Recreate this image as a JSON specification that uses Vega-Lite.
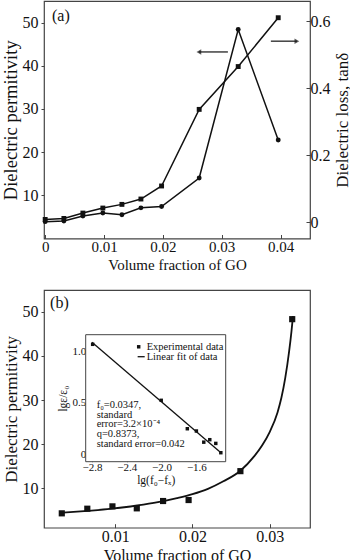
{
  "$schema": "https://vega.github.io/schema/vega-lite/v6.json",
  "padding": {"left": 0, "top": 0, "right": 0, "bottom": 0},
  "background": "white",
  "config": {
    "font": "Liberation Serif",
    "view": {"stroke": "#444", "strokeWidth": 1.2},
    "axis": {"grid": false, "domain": false, "tickColor": "#444", "labelColor": "#111", "titleColor": "#111", "labelFont": "Liberation Serif", "titleFont": "Liberation Serif", "titleFontWeight": "normal", "labelFontWeight": "normal"}
  },
  "datasets": {
    "permit": [
      {"f": 0, "eps": 3.9}, {"f": 0.00318, "eps": 4.05}, {"f": 0.00641, "eps": 5.2}, {"f": 0.0098, "eps": 5.9},
      {"f": 0.01304, "eps": 5.5}, {"f": 0.01627, "eps": 7.1}, {"f": 0.01978, "eps": 7.4}, {"f": 0.02617, "eps": 14.0},
      {"f": 0.0328, "eps": 48.4}, {"f": 0.0396, "eps": 22.8}
    ],
    "loss": [
      {"f": 0, "tan": 0.008}, {"f": 0.00318, "tan": 0.011}, {"f": 0.00641, "tan": 0.027}, {"f": 0.0098, "tan": 0.042},
      {"f": 0.01304, "tan": 0.053}, {"f": 0.01627, "tan": 0.069}, {"f": 0.01978, "tan": 0.108}, {"f": 0.02617, "tan": 0.337},
      {"f": 0.0328, "tan": 0.465}, {"f": 0.0396, "tan": 0.611}
    ],
    "exp": [
      {"f": 0.0031, "eps": 4.35}, {"f": 0.0064, "eps": 5.4}, {"f": 0.00965, "eps": 5.93}, {"f": 0.0128, "eps": 5.48},
      {"f": 0.0162, "eps": 7.14}, {"f": 0.0195, "eps": 7.36}, {"f": 0.0262, "eps": 13.9}, {"f": 0.0329, "eps": 48.3}
    ],
    "fit": [
      {"f": 0.0032, "eps": 4.5}, {"f": 0.006, "eps": 4.85}, {"f": 0.009, "eps": 5.3}, {"f": 0.012, "eps": 5.9},
      {"f": 0.015, "eps": 6.7}, {"f": 0.018, "eps": 7.8}, {"f": 0.02, "eps": 8.7}, {"f": 0.022, "eps": 9.9},
      {"f": 0.024, "eps": 11.6}, {"f": 0.0262, "eps": 14.0}, {"f": 0.028, "eps": 17.3}, {"f": 0.029, "eps": 19.7},
      {"f": 0.03, "eps": 22.8}, {"f": 0.031, "eps": 27.2}, {"f": 0.0315, "eps": 30.5}, {"f": 0.032, "eps": 35.0},
      {"f": 0.0325, "eps": 41.0}, {"f": 0.0328, "eps": 45.5}, {"f": 0.033, "eps": 49.0}
    ],
    "inset": [
      {"lgf": -2.792, "lge": 1.065}, {"lgf": -2.004, "lge": 0.523}, {"lgf": -1.704, "lge": 0.248}, {"lgf": -1.6, "lge": 0.226},
      {"lgf": -1.515, "lge": 0.118}, {"lgf": -1.446, "lge": 0.142}, {"lgf": -1.377, "lge": 0.106}, {"lgf": -1.319, "lge": 0.016}
    ],
    "insetfit": [
      {"lgf": -2.8, "lge": 1.084}, {"lgf": -1.311, "lge": 0.01}
    ]
  },
  "spacing": 51,
  "bounds": "flush",
  "vconcat": [
    {
      "width": 266,
      "height": 237.5,
      "layer": [
        {
          "layer": [
            {
              "data": {"name": "permit"},
              "mark": {"type": "line", "color": "#111", "strokeWidth": 1.5, "point": {"filled": true, "shape": "circle", "size": 24, "color": "#111"}},
              "encoding": {
                "x": {"field": "f", "type": "quantitative",
                  "scale": {"domain": [-0.0002, 0.045], "nice": false, "zero": false},
                  "axis": {"orient": "bottom", "values": [0, 0.01, 0.02, 0.03, 0.04], "labelExpr": "datum.value == 0 ? '0' : format(datum.value, '.2f')", "tickSize": -4, "labelPadding": 5, "labelFontSize": 15, "title": "Volume fraction of GO", "titleFontSize": 15, "titlePadding": 3}},
                "y": {"field": "eps", "type": "quantitative",
                  "scale": {"domain": [0, 55], "nice": false, "zero": false},
                  "axis": {"orient": "left", "values": [10, 20, 30, 40, 50], "tickSize": 3, "labelPadding": 3, "labelFontSize": 16, "title": "Dielectric permitivity", "titleFontSize": 18.5, "titlePadding": 2}}
              }
            },
            {
              "data": {"values": [{}]},
              "mark": {"type": "rule", "color": "#111", "strokeWidth": 1.2},
              "encoding": {"x": {"datum": 0.02612, "type": "quantitative"}, "x2": {"datum": 0.03105}, "y": {"datum": 43.2, "type": "quantitative"}}
            },
            {
              "data": {"values": [{}]},
              "mark": {"type": "point", "shape": "triangle-left", "filled": true, "size": 30, "color": "#111"},
              "encoding": {"x": {"datum": 0.02612, "type": "quantitative"}, "y": {"datum": 43.2, "type": "quantitative"}}
            },
            {
              "data": {"values": [{}]},
              "mark": {"type": "rule", "color": "#111", "strokeWidth": 1.2},
              "encoding": {"x": {"datum": 0.03835, "type": "quantitative"}, "x2": {"datum": 0.04277}, "y": {"datum": 45.7, "type": "quantitative"}}
            },
            {
              "data": {"values": [{}]},
              "mark": {"type": "point", "shape": "triangle-right", "filled": true, "size": 30, "color": "#111"},
              "encoding": {"x": {"datum": 0.04277, "type": "quantitative"}, "y": {"datum": 45.7, "type": "quantitative"}}
            },
            {
              "data": {"values": [{}]},
              "mark": {"type": "text", "text": "(a)", "fontSize": 16, "align": "center", "baseline": "middle", "color": "#111"},
              "encoding": {"x": {"datum": 0.00267, "type": "quantitative"}, "y": {"datum": 51.5, "type": "quantitative"}}
            }
          ]
        },
        {
          "data": {"name": "loss"},
          "mark": {"type": "line", "color": "#111", "strokeWidth": 1.5, "point": {"filled": true, "shape": "square", "size": 24, "color": "#111"}},
          "encoding": {
            "x": {"field": "f", "type": "quantitative"},
            "y": {"field": "tan", "type": "quantitative",
              "scale": {"domain": [-0.049, 0.661], "nice": false, "zero": false},
              "axis": {"orient": "right", "values": [0, 0.2, 0.4, 0.6], "labelExpr": "datum.value == 0 ? '0' : format(datum.value, '.1f')", "tickSize": -4, "labelPadding": 4, "labelFontSize": 16, "title": "Dielectric loss, tanδ", "titleFontSize": 17, "titleAngle": 270, "titleBaseline": "top", "titlePadding": 4}}
          }
        }
      ],
      "resolve": {"scale": {"y": "independent"}}
    },
    {
      "width": 266,
      "height": 237.7,
      "layer": [
        {
          "layer": [
            {
              "data": {"name": "fit"},
              "mark": {"type": "line", "color": "#111", "strokeWidth": 1.8, "interpolate": "monotone"},
              "encoding": {
                "x": {"field": "f", "type": "quantitative",
                  "scale": {"domain": [0.0008, 0.0352], "nice": false, "zero": false},
                  "axis": {"orient": "bottom", "values": [0.01, 0.02, 0.03], "format": ".2f", "tickSize": -4, "labelPadding": 5, "labelFontSize": 16, "title": "Volume fraction of GO", "titleFontSize": 16, "titlePadding": 3}},
                "y": {"field": "eps", "type": "quantitative",
                  "scale": {"domain": [1.1, 54.9], "nice": false, "zero": false},
                  "axis": {"orient": "left", "values": [10, 20, 30, 40, 50], "tickSize": 3, "labelPadding": 3, "labelFontSize": 16, "title": "Dielectric permitivity", "titleFontSize": 17, "titlePadding": 2}}
              }
            },
            {
              "data": {"name": "exp"},
              "mark": {"type": "point", "shape": "square", "filled": true, "size": 38, "color": "#111", "opacity": 1},
              "encoding": {"x": {"field": "f", "type": "quantitative"}, "y": {"field": "eps", "type": "quantitative"}}
            },
            {
              "data": {"values": [{}]},
              "mark": {"type": "text", "text": "(b)", "fontSize": 16, "align": "center", "baseline": "middle", "color": "#111"},
              "encoding": {"x": {"datum": 0.00279, "type": "quantitative"}, "y": {"datum": 52.0, "type": "quantitative"}}
            }
          ]
        },
        {
          "layer": [
            {
              "data": {"values": [{}]},
              "mark": {"type": "rect", "fill": "white", "stroke": "#444", "strokeWidth": 1},
              "encoding": {
                "x": {"datum": -2.872, "type": "quantitative",
                  "scale": {"domain": [-2.872, -1.263], "range": [41.7, 181.7], "nice": false, "zero": false},
                  "axis": {"orient": "bottom", "offset": -66, "values": [-2.8, -2.4, -2.0, -1.6], "format": ".1f", "tickSize": -3, "labelPadding": 3, "labelFontSize": 11, "title": "lg(f₀−fₓ)", "titleFontSize": 11.5, "titlePadding": 2}},
                "x2": {"datum": -1.263},
                "y": {"datum": -0.071, "type": "quantitative",
                  "scale": {"domain": [-0.071, 1.158], "range": [171.7, 44.7], "nice": false, "zero": false},
                  "axis": {"orient": "left", "offset": -41.7, "values": [0, 0.5, 1.0], "labelExpr": "datum.value == 0 ? '0' : format(datum.value, '.1f')", "tickSize": -3, "labelPadding": 3, "labelFontSize": 11, "title": "lgε/ε₀", "titleFontSize": 11.5, "titlePadding": 3}},
                "y2": {"datum": 1.158}
              }
            },
            {
              "data": {"name": "insetfit"},
              "mark": {"type": "line", "color": "#111", "strokeWidth": 1.3},
              "encoding": {"x": {"field": "lgf", "type": "quantitative"}, "y": {"field": "lge", "type": "quantitative"}}
            },
            {
              "data": {"name": "inset"},
              "mark": {"type": "point", "shape": "square", "filled": true, "size": 12, "color": "#111", "opacity": 1},
              "encoding": {"x": {"field": "lgf", "type": "quantitative"}, "y": {"field": "lge", "type": "quantitative"}}
            },
            {
              "data": {"values": [{}]},
              "mark": {"type": "point", "shape": "square", "filled": true, "size": 12, "color": "#111", "opacity": 1},
              "encoding": {"x": {"datum": -2.263, "type": "quantitative"}, "y": {"datum": 1.041, "type": "quantitative"}}
            },
            {
              "data": {"values": [{}]},
              "mark": {"type": "text", "text": "Experimental data", "fontSize": 10.5, "align": "left", "baseline": "middle", "color": "#111"},
              "encoding": {"x": {"datum": -2.171, "type": "quantitative"}, "y": {"datum": 1.041, "type": "quantitative"}}
            },
            {
              "data": {"values": [{}]},
              "mark": {"type": "rule", "color": "#111", "strokeWidth": 1.3},
              "encoding": {"x": {"datum": -2.275, "type": "quantitative"}, "x2": {"datum": -2.194}, "y": {"datum": 0.945, "type": "quantitative"}}
            },
            {
              "data": {"values": [{}]},
              "mark": {"type": "text", "text": "Linear fit of data", "fontSize": 10.5, "align": "left", "baseline": "middle", "color": "#111"},
              "encoding": {"x": {"datum": -2.171, "type": "quantitative"}, "y": {"datum": 0.945, "type": "quantitative"}}
            },
            {
              "data": {"values": [{}]},
              "mark": {"type": "text", "text": ["f₀=0.0347,", "standard", "error=3.2×10⁻⁴", "q=0.8373,", "standard error=0.042"], "lineHeight": 9.7, "fontSize": 10.5, "align": "left", "baseline": "middle", "color": "#111"},
              "encoding": {"x": {"datum": -2.746, "type": "quantitative"}, "y": {"datum": 0.478, "type": "quantitative"}}
            }
          ]
        }
      ],
      "resolve": {"scale": {"x": "independent", "y": "independent"}}
    }
  ]
}
